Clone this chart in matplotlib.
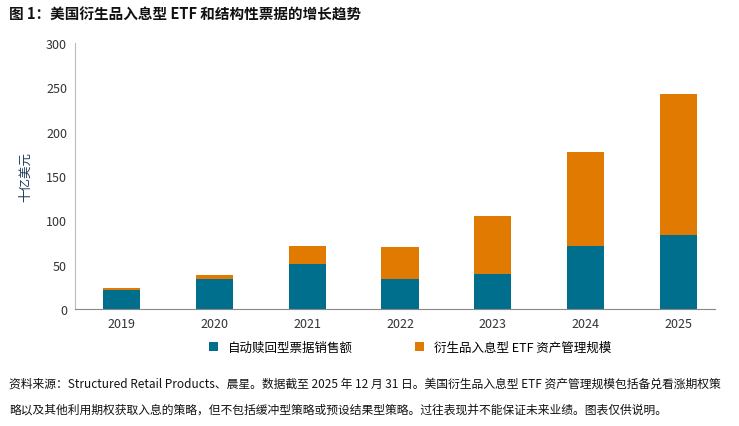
import matplotlib
matplotlib.use("Agg")
import matplotlib.pyplot as plt

plt.rcParams['font.family'] = ['Noto Sans CJK SC', 'DejaVu Sans']

years = ["2019", "2020", "2021", "2022", "2023", "2024", "2025"]
notes = [21.5, 34, 51, 34, 39.5, 71, 83.5]
etf = [2.2, 4.5, 19.5, 35.5, 65.5, 106, 159]
yticks = [0, 50, 100, 150, 200, 250, 300]

blue = "#006F8E"
orange = "#E07A00"

fig = plt.figure(figsize=(7.39, 4.27), dpi=100)
ax = fig.add_axes([0.102, 0.274, 0.866, 0.623])
x = range(len(years))
ax.bar(x, notes, width=0.4, color=blue, label="自动赎回型票据销售额")
ax.bar(x, etf, width=0.4, bottom=notes, color=orange, label="衍生品入息型 ETF 资产管理规模")
ax.set_xticks(list(x))
ax.set_xticklabels(years, fontsize=9)
ax.set_yticks(yticks)
ax.set_yticklabels([str(t) for t in yticks], fontsize=9)
ax.set_ylim(0, 300)
ax.set_xlim(-0.5, 6.4)
for s in ["top", "right"]:
    ax.spines[s].set_visible(False)
ax.spines["left"].set_color("#BBBBBB")
ax.spines["bottom"].set_color("#888888")
ax.tick_params(axis="y", length=0, pad=6, colors="#333333")
ax.tick_params(axis="x", length=0, pad=6, colors="#333333")
ax.set_ylabel("十亿美元", fontsize=9, color="#1a3a5a", labelpad=10)

fig.legend(loc="center", bbox_to_anchor=(0.555, 0.185), ncol=2, frameon=False,
           fontsize=9, handlelength=0.7, handleheight=0.7, columnspacing=5)

fig.text(0.012, 0.965, "图 1：美国衍生品入息型 ETF 和结构性票据的增长趋势",
         fontsize=10.5, fontweight="bold", va="center", color="#111111")
fig.text(0.012, 0.069,
         "资料来源：Structured Retail Products、晨星。数据截至 2025 年 12 月 31 日。美国衍生品入息型 ETF 资产管理规模包括备兑看涨期权策\n略以及其他利用期权获取入息的策略，但不包括缓冲型策略或预设结果型策略。过往表现并不能保证未来业绩。图表仅供说明。",
         fontsize=8.5, va="center", linespacing=2.3, color="#111111")
fig.savefig("out.png", dpi=100)
